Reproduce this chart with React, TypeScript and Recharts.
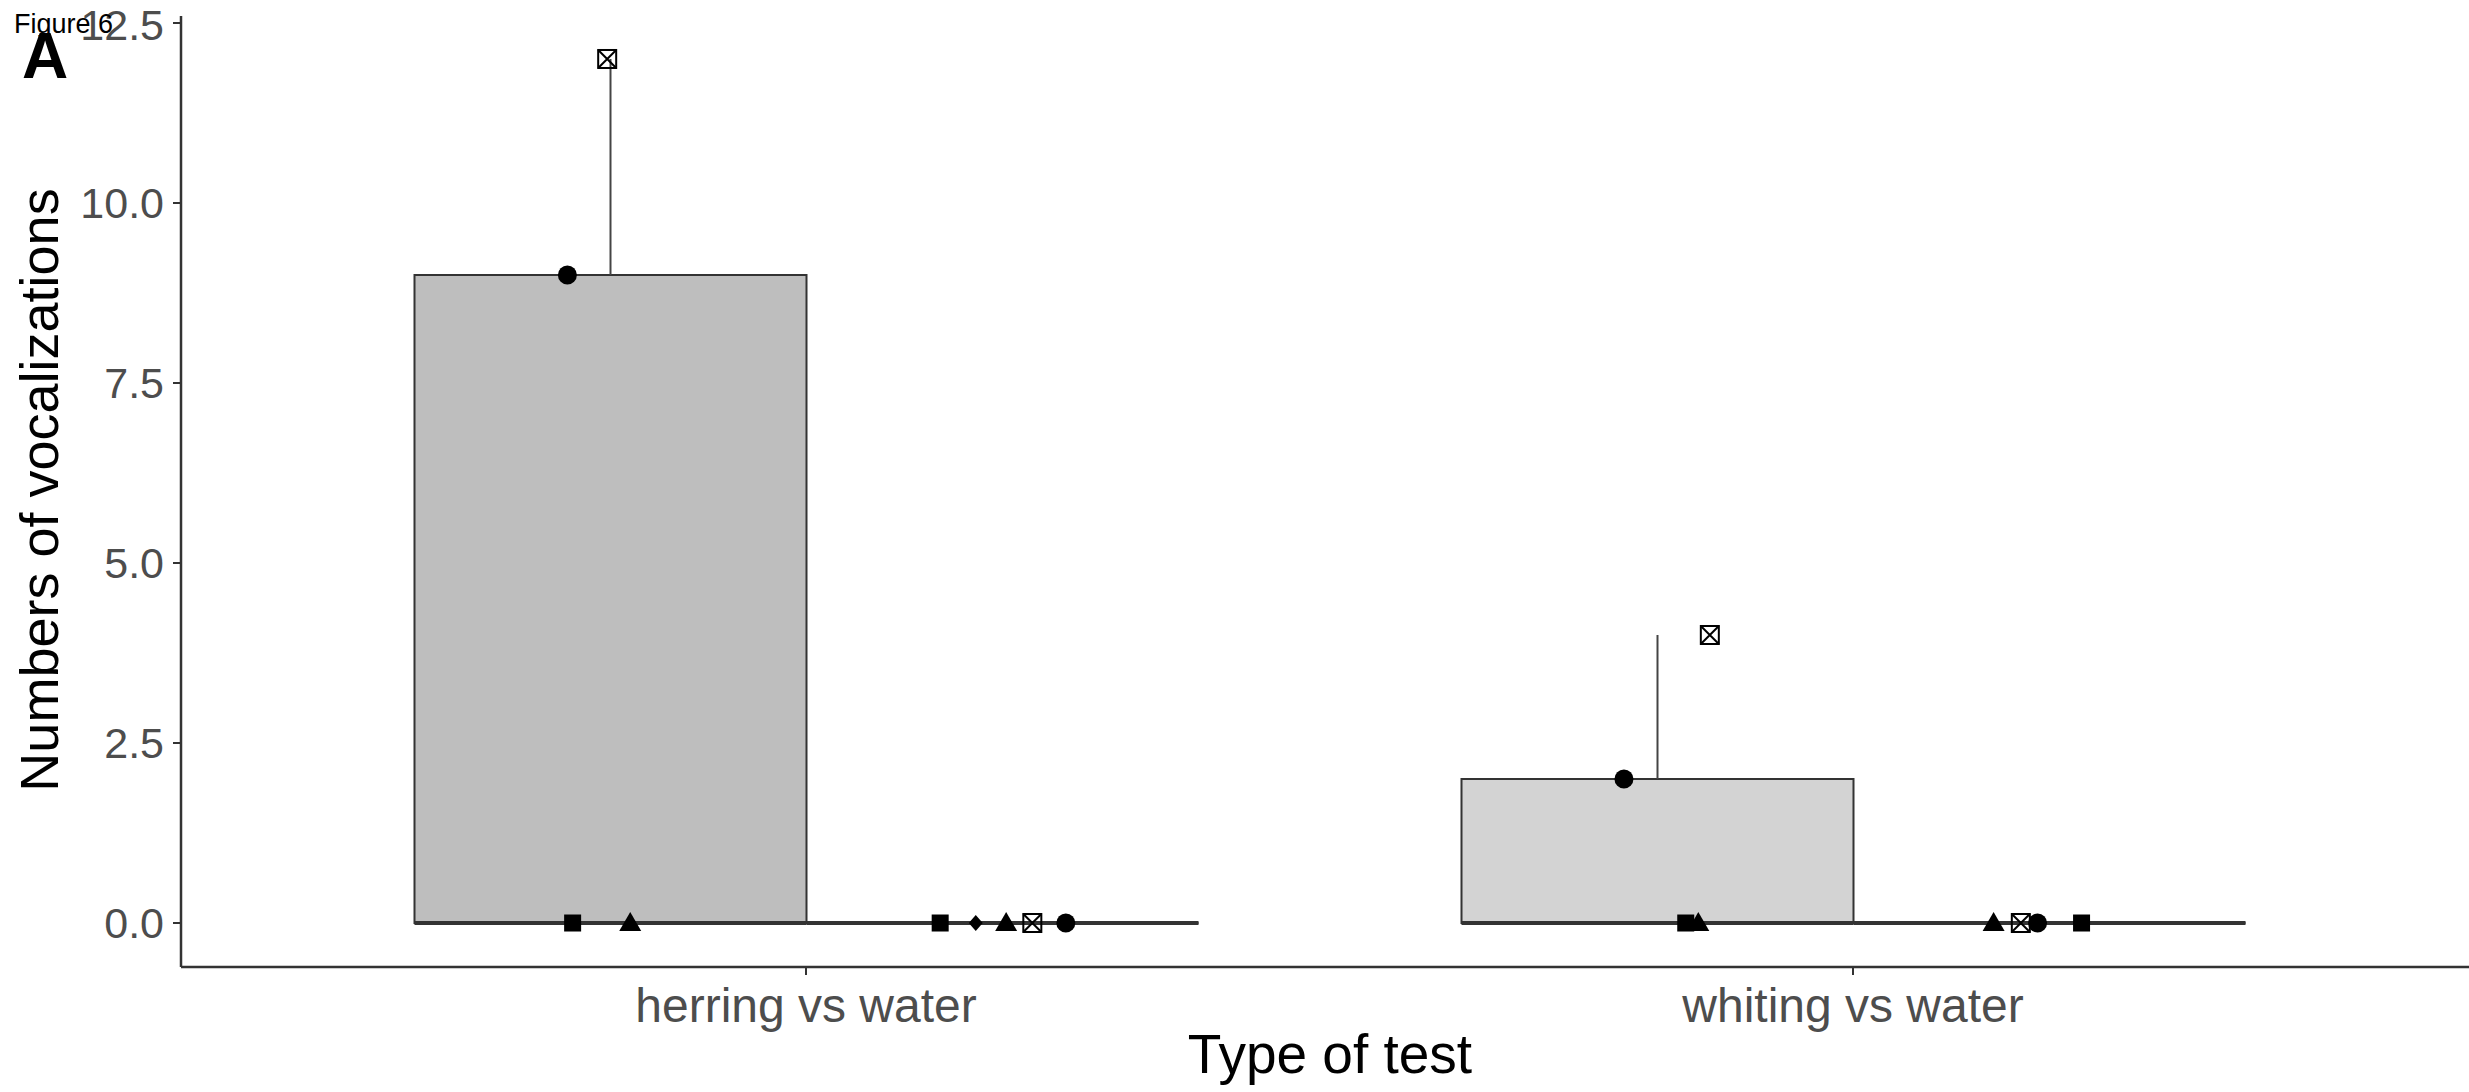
import { Bar, Cell, ComposedChart, ErrorBar, Scatter, XAxis, YAxis } from "recharts";

// group means per type of test
const categories = ["herring vs water", "whiting vs water"];
const stimulusValues = [9, 2];
const waterValues = [0, 0];
const stimulusUpperError = [3, 2];
const stimulusFills = ["#bebebe", "#d3d3d3"];

const yTicks = [0, 2.5, 5, 7.5, 10, 12.5];

// individual fish, x in category units (herring = 1, whiting = 2, jittered)
const pointX = [
  0.772, 0.777, 0.832, 0.81,
  1.128, 1.162, 1.191, 1.216, 1.248,
  1.781, 1.84, 1.852, 1.863,
  2.134, 2.16, 2.176, 2.218,
];
const pointY = [9, 0, 0, 12, 0, 0, 0, 0, 0, 2, 0, 0, 4, 0, 0, 0, 0];
const pointShape = [
  "circle", "square", "triangle", "xsquare",
  "square", "diamond", "triangle", "xsquare", "circle",
  "circle", "square", "triangle", "xsquare",
  "triangle", "xsquare", "circle", "square",
];

const barData = categories.map((name, i) => ({
  name,
  stimulus: stimulusValues[i],
  water: waterValues[i],
  err: [0, stimulusUpperError[i]],
}));

const pointData = pointX.map((x, i) => ({ x, y: pointY[i], shape: pointShape[i] }));

const FONT = "'Liberation Sans', Arial, sans-serif";
const AXIS = "#333333";

const BarShape = (props: any) => {
  const { x, y, width, height, fill } = props;
  return (
    <g>
      <path
        d={`M${x},${y}h${width}v${height}h${-width}Z`}
        fill={fill}
        stroke={AXIS}
        strokeWidth={2}
      />
      <line x1={x} x2={x + width} y1={y + height} y2={y + height} stroke={AXIS} strokeWidth={4} />
    </g>
  );
};

const PointShape = (props: any) => {
  const { cx, cy, payload } = props;
  const s = payload.shape;
  if (s === "circle") return <circle cx={cx} cy={cy} r={9.5} fill="#000" />;
  if (s === "square")
    return <rect x={cx - 8.5} y={cy - 8.5} width={17} height={17} fill="#000" />;
  if (s === "triangle")
    return (
      <path d={`M${cx},${cy - 11}L${cx + 11},${cy + 8}L${cx - 11},${cy + 8}Z`} fill="#000" />
    );
  if (s === "diamond")
    return (
      <path d={`M${cx},${cy - 8}L${cx + 7},${cy}L${cx},${cy + 8}L${cx - 7},${cy}Z`} fill="#000" />
    );
  return (
    <g stroke="#000" strokeWidth={2} fill="none">
      <rect x={cx - 9} y={cy - 9} width={18} height={18} />
      <path d={`M${cx - 9},${cy - 9}L${cx + 9},${cy + 9}M${cx + 9},${cy - 9}L${cx - 9},${cy + 9}`} />
    </g>
  );
};

export default function App() {
  return (
    <div style={{ position: "absolute", left: 0, top: 0, width: 2469, height: 1092, background: "#fff" }}>
      <ComposedChart
        width={2469}
        height={1092}
        data={barData}
        margin={{ top: 16, right: 0, left: 0, bottom: 0 }}
        barGap={0}
      >
        <XAxis
          xAxisId="cat"
          dataKey="name"
          height={125}
          padding={{ left: 101.5, right: 92.5 }}
          stroke={AXIS}
          axisLine={{ stroke: AXIS, strokeWidth: 2.5 }}
          tickLine={{ stroke: AXIS, strokeWidth: 2 }}
          tickSize={8}
          tickMargin={13}
          tick={{ fill: "#4d4d4d", fontSize: 48, fontFamily: FONT }}
        />
        <XAxis
          xAxisId="num"
          dataKey="x"
          type="number"
          domain={[0.403, 2.588]}
          allowDataOverflow
          hide
        />
        <YAxis
          dataKey="y"
          type="number"
          width={181}
          domain={[-0.611, 12.597]}
          allowDataOverflow
          ticks={yTicks}
          tickFormatter={(v: number) => v.toFixed(1)}
          axisLine={{ stroke: AXIS, strokeWidth: 2.5 }}
          tickLine={{ stroke: AXIS, strokeWidth: 2 }}
          tickSize={8}
          tickMargin={9}
          tick={{ fill: "#4d4d4d", fontSize: 43, fontFamily: FONT }}
        />
        <Bar
          xAxisId="cat"
          dataKey="stimulus"
          barSize={392}
          shape={BarShape}
          isAnimationActive={false}
        >
          {barData.map((d, i) => (
            <Cell key={d.name} fill={stimulusFills[i]} />
          ))}
          <ErrorBar dataKey="err" width={0} stroke="#444" strokeWidth={2} direction="y" />
        </Bar>
        <Bar
          xAxisId="cat"
          dataKey="water"
          barSize={392}
          fill="#ffffff"
          shape={BarShape}
          isAnimationActive={false}
        />
        <Scatter
          xAxisId="num"
          data={pointData}
          dataKey="y"
          shape={PointShape}
          isAnimationActive={false}
        />
      </ComposedChart>
      <svg
        width={2469}
        height={1092}
        style={{ position: "absolute", left: 0, top: 0, pointerEvents: "none" }}
        fontFamily={FONT}
      >
        <text x={14} y={33} fontSize={27} fill="#000">
          Figure 6
        </text>
        <text x={22} y={78} fontSize={64} fontWeight="bold" fill="#000">
          A
        </text>
        <text
          transform="translate(58,490) rotate(-90)"
          textAnchor="middle"
          fontSize={54}
          fill="#000"
        >
          Numbers of vocalizations
        </text>
        <text x={1330} y={1073} textAnchor="middle" fontSize={55} fill="#000">
          Type of test
        </text>
      </svg>
    </div>
  );
}
